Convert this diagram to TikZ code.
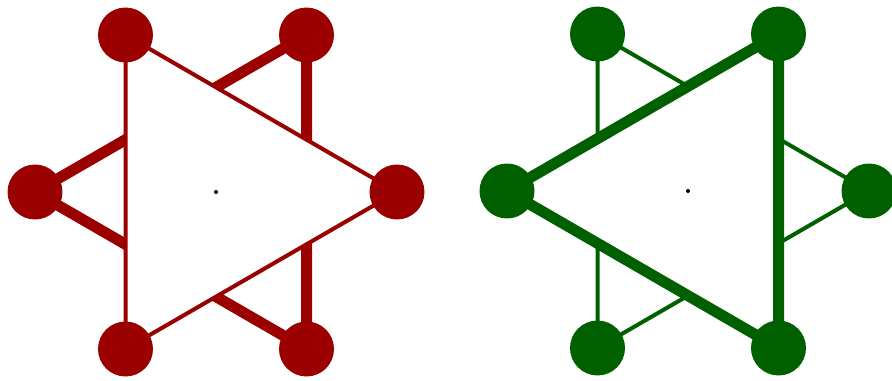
\documentclass[tikz,border=0pt]{standalone}
\usetikzlibrary{backgrounds}
\definecolor{dred}{RGB}{155,0,0}
\definecolor{dgreen}{RGB}{0,96,0}
\begin{document}
\begin{tikzpicture}[x=0.02cm,y=-0.02cm,
  vr/.style={circle,fill=dred,inner sep=0pt,minimum size=1.1cm},
  vg/.style={circle,fill=dgreen,inner sep=0pt,minimum size=1.1cm},
  ctr/.style={circle,fill=black,inner sep=0pt,minimum size=0.08cm},
  heavy/.style={line width=0.22cm},
  light/.style={line width=0.08cm}]
\useasboundingbox (0,0) rectangle (892,381);
% left star
\node[ctr](c1) at (216,192){};
\node[vr](tl1) at (125.5,35){};
\node[vr](tr1) at (306.5,35){};
\node[vr](l1) at (35,192){};
\node[vr](r1) at (397,192){};
\node[vr](bl1) at (125.5,349){};
\node[vr](br1) at (306.5,349){};
% right star
\node[ctr](c2) at (688,191){};
\node[vg](tl2) at (597.5,34){};
\node[vg](tr2) at (778.5,34){};
\node[vg](l2) at (507,191){};
\node[vg](r2) at (869,191){};
\node[vg](bl2) at (597.5,348){};
\node[vg](br2) at (778.5,348){};
\begin{scope}[on background layer]
\draw[heavy,draw=dred](l1.center)--(tr1.center)--(br1.center)--cycle;
\draw[light,draw=dred,fill=white](tl1.center)--(r1.center)--(bl1.center)--cycle;
\draw[light,draw=dgreen](tl2.center)--(r2.center)--(bl2.center)--cycle;
\draw[heavy,draw=dgreen,fill=white](l2.center)--(tr2.center)--(br2.center)--cycle;
\end{scope}
\end{tikzpicture}
\end{document}
